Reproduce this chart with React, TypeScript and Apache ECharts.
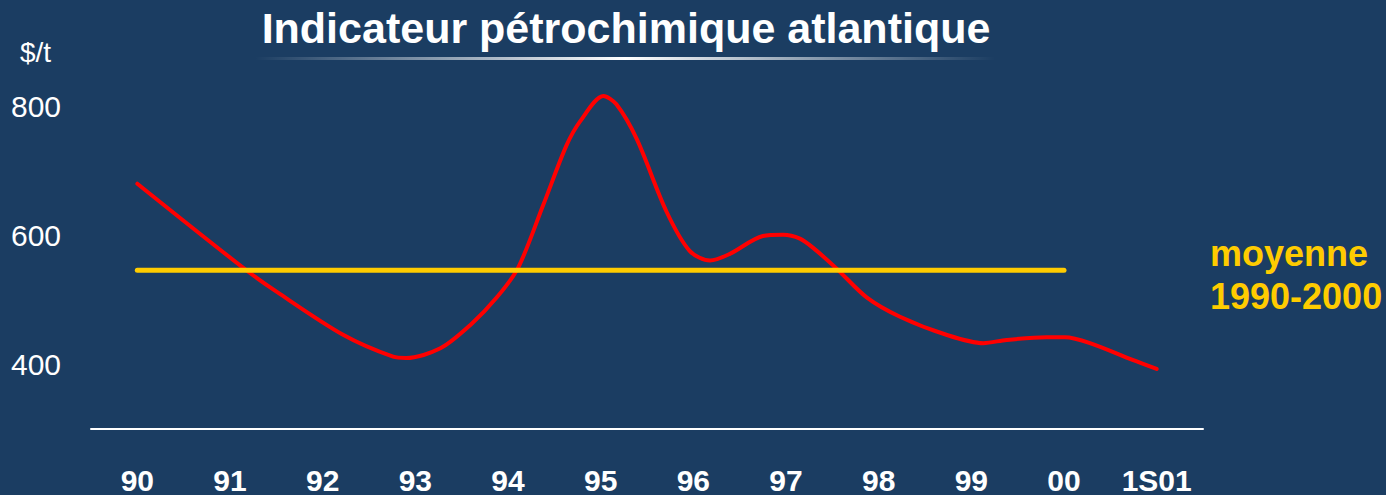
import React, { useEffect, useRef } from "react";
import * as echarts from "echarts";

const periodLabels = ["90", "91", "92", "93", "94", "95", "96", "97", "98", "99", "00", "1S01"];
// positions along the period axis (0 = 1990, 11 = 1S01)
const curvePos = [0, 1.14, 1.51, 2.22, 2.76, 2.9, 3.27, 3.6, 3.88, 4.11, 4.38, 4.63, 4.78, 5.03, 5.17, 5.39, 5.71, 5.96, 6.18, 6.39, 6.75, 6.97, 7.15, 7.29, 7.55, 7.87, 8.23, 8.73, 9.13, 9.38, 9.81, 10.01, 10.28, 10.74, 11.0];
const curveValues = [680, 550, 512, 446, 412, 410, 425, 462, 504, 550, 647, 739, 777, 816, 803, 749, 637, 576, 561, 571, 599, 601, 595, 581, 548, 504, 474, 446, 433, 438, 442, 442, 433, 407, 393];
const averageValue = 546;
const averageSpan = [0, 10];
const yTickLabels = [400, 600, 800];

const FONT = "'Liberation Sans', Arial, Helvetica, sans-serif";

export default function App() {
  const ref = useRef<HTMLDivElement>(null);
  useEffect(() => {
    document.body.style.margin = "0";
    const chart = echarts.init(ref.current!, null, { renderer: "svg" });
    const option: any = {
      animation: false,
      backgroundColor: "#1b3d62",
      grid: { left: 91, right: 183, top: 74, bottom: 62 },
      xAxis: [
        {
          type: "category",
          data: periodLabels,
          boundaryGap: true,
          axisLine: { show: true, lineStyle: { color: "#ffffff", width: 2 } },
          axisTick: { show: false },
          splitLine: { show: false },
          axisLabel: {
            color: "#ffffff",
            fontSize: 30,
            fontWeight: "bold",
            fontFamily: FONT,
            margin: 36,
            interval: 0,
          },
        },
        { type: "value", min: -0.5, max: 11.5, show: false },
      ],
      yAxis: {
        type: "value",
        min: 300,
        max: 850,
        interval: 100,
        axisLine: { show: false },
        axisTick: { show: false },
        splitLine: { show: false },
        axisLabel: {
          color: "#ffffff",
          fontSize: 30,
          fontFamily: FONT,
          align: "left",
          margin: 80,
          formatter: (v: number) => (yTickLabels.includes(v) ? String(v) : ""),
        },
      },
      series: [
        {
          type: "line",
          xAxisIndex: 1,
          data: curvePos.map((p, i) => [p, curveValues[i]]),
          smooth: 0.3,
          symbol: "none",
          lineStyle: { color: "#ff0000", width: 4, cap: "round", join: "round" },
          z: 2,
        },
        {
          type: "line",
          xAxisIndex: 1,
          data: averageSpan.map((p) => [p, averageValue]),
          symbol: "none",
          lineStyle: { color: "#ffcc00", width: 5, cap: "round" },
          z: 3,
        },
      ],
      graphic: [
        {
          type: "text",
          x: 626,
          y: 28,
          style: {
            text: "Indicateur pétrochimique atlantique",
            fill: "#ffffff",
            font: `bold 43px ${FONT}`,
            align: "center",
            verticalAlign: "middle",
          },
        },
        {
          type: "rect",
          shape: { x: 255, y: 57, width: 740, height: 3 },
          style: {
            fill: new echarts.graphic.LinearGradient(0, 0, 1, 0, [
              { offset: 0, color: "rgba(255,255,255,0)" },
              { offset: 0.5, color: "rgba(255,255,255,1)" },
              { offset: 1, color: "rgba(255,255,255,0)" },
            ]),
          },
        },
        {
          type: "text",
          x: 20,
          y: 52,
          style: {
            text: "$/t",
            fill: "#ffffff",
            font: `28px ${FONT}`,
            align: "left",
            verticalAlign: "middle",
          },
        },
        {
          type: "text",
          x: 1210,
          y: 253,
          style: {
            text: "moyenne",
            fill: "#ffcc00",
            font: `bold 36px ${FONT}`,
            align: "left",
            verticalAlign: "middle",
          },
        },
        {
          type: "text",
          x: 1210,
          y: 296,
          style: {
            text: "1990-2000",
            fill: "#ffcc00",
            font: `bold 36px ${FONT}`,
            align: "left",
            verticalAlign: "middle",
          },
        },
      ],
    };
    chart.setOption(option);
    return () => chart.dispose();
  }, []);
  return <div ref={ref} style={{ position: "absolute", left: 0, top: 0, width: 1386, height: 495 }} />;
}
